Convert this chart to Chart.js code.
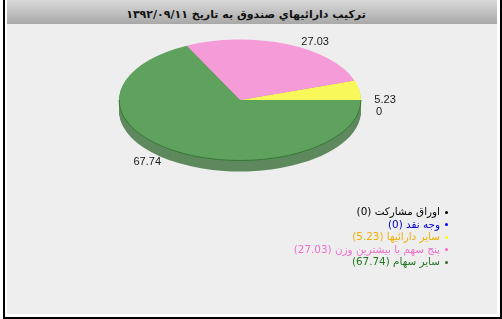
<!DOCTYPE html>
<html><head><meta charset="utf-8">
<script src="https://cdn.jsdelivr.net/npm/chart.js@4/dist/chart.umd.min.js"></script>
<style>
html,body{margin:0;padding:0;background:#fff;width:502px;height:319px;overflow:hidden;}
#frame{position:absolute;left:3px;top:0;width:490px;height:314px;border:2px solid #000;border-top:none;padding:0 3px 3px 2px;background:#fff;}
#panel{position:absolute;left:2px;top:0;width:490px;height:314px;background:#eeeeee;}
#head{position:absolute;left:0;top:0;width:490px;height:24px;background:linear-gradient(#dadada,#a8a8a8);}
#title{position:absolute;left:0;top:8px;width:478px;height:16px;line-height:16px;text-align:center;font:bold 11px Tahoma,'DejaVu Sans',sans-serif;color:#111;direction:rtl;}
#c{position:absolute;left:0;top:-21px;}
#legend{position:absolute;right:54px;top:205px;direction:rtl;font:10.4px Tahoma,'DejaVu Sans',sans-serif;}
#legend .row{height:12.5px;line-height:12.5px;white-space:nowrap;}
#legend .dot{display:inline-block;width:3px;height:3px;border-radius:2px;margin-left:5px;vertical-align:middle;}
</style></head>
<body>
<div id="frame"><div id="panel"><div id="head"></div><div id="title">ترکیب دارائیهاي صندوق به تاریخ ۱۳۹۲/۰۹/۱۱</div></div></div>
<canvas id="c" width="502" height="340"></canvas>
<div id="legend"></div>
<script>
const categories = ['اوراق مشارکت', 'وجه نقد', 'سایر دارائیها', 'پنج سهم با بیشترین وزن', 'سایر سهام'];
const values = [0, 0, 5.23, 27.03, 67.74];
const sliceColors = ['#000000', '#0000ff', '#f8f85a', '#f59bd8', '#5ea25e'];
const legendTextColors = ['#000000', '#0000cc', '#f0b000', '#ee70cc', '#227722'];
const legendDotColors = ['#000000', '#0000ff', '#ffff00', '#ff66cc', '#336633'];

const TILT = 0.5, DEPTH = 11;

function sideColor(hex){
  const n = parseInt(hex.slice(1),16);
  const ch = [(n>>16)&255,(n>>8)&255,n&255].map(v => Math.round((v*0.7 + 128*0.3)*0.9));
  return 'rgb(' + ch.join(',') + ')';
}
function arcPath(ctx, a){
  ctx.beginPath();
  ctx.moveTo(a.x, a.y);
  ctx.arc(a.x, a.y, a.outerRadius, a.startAngle, a.endAngle);
  ctx.closePath();
}
function tiltAt(ctx, a, dy){
  ctx.translate(a.x, a.y + dy);
  ctx.scale(1, -TILT);
  ctx.translate(-a.x, -a.y);
}

const pie3d = {
  id: 'pie3d',
  beforeDatasetsDraw(chart){
    const ctx = chart.ctx;
    const arcs = chart.getDatasetMeta(0).data;
    for (let d = DEPTH; d >= 1; d--) {
      arcs.forEach((a, i) => {
        if (a.endAngle - a.startAngle <= 0) return;
        ctx.save(); tiltAt(ctx, a, d);
        arcPath(ctx, a);
        ctx.fillStyle = sideColor(sliceColors[i]);
        ctx.fill();
        ctx.restore();
      });
    }
    ctx.save();
    tiltAt(ctx, arcs[0], 0);
  },
  afterDatasetsDraw(chart){
    const ctx = chart.ctx;
    ctx.restore();
    const arcs = chart.getDatasetMeta(0).data;
    const a0 = arcs[0];
    ctx.save();
    ctx.beginPath();
    ctx.ellipse(a0.x, a0.y, a0.outerRadius, a0.outerRadius*TILT, 0, 0, Math.PI);
    ctx.strokeStyle = 'rgba(45,115,45,0.85)'; ctx.lineWidth = 1; ctx.stroke();
    ctx.restore();
    ctx.save();
    ctx.font = '11px "Liberation Sans", Arial, sans-serif';
    ctx.fillStyle = '#1a1a1a';
    ctx.textBaseline = 'middle';
    const drawn = {};
    arcs.forEach((a, i) => {
      const mid = (a.startAngle + a.endAngle) / 2;
      const c = Math.cos(mid), s = Math.sin(mid);
      const key = mid.toFixed(4) + '|' + values[i];
      if (drawn[key]) return;
      drawn[key] = true;
      const x = a.x + a.outerRadius * c + (c >= 0 ? 15 : -15);
      const k = s >= 0 ? 76 : 59;
      const y = a.y + 12 - k * s;
      ctx.textAlign = c >= 0 ? 'left' : 'right';
      ctx.fillText(String(values[i]), x, y);
    });
    ctx.restore();
  }
};

new Chart(document.getElementById('c'), {
  type: 'pie',
  data: { labels: categories, datasets: [{ data: values, backgroundColor: sliceColors, borderWidth: 0 }] },
  options: {
    responsive: false, animation: false, rotation: 90,
    events: [],
    layout: { padding: { left: 119, right: 141, top: 0, bottom: 98 } },
    plugins: { legend: { display: false }, tooltip: { enabled: false } }
  },
  plugins: [pie3d]
});

const lg = document.getElementById('legend');
categories.forEach((name, i) => {
  const row = document.createElement('div');
  row.className = 'row';
  row.style.color = legendTextColors[i];
  const dot = document.createElement('span');
  dot.className = 'dot'; dot.style.background = legendDotColors[i];
  row.appendChild(dot);
  row.appendChild(document.createTextNode(name + ' (' + values[i] + ')'));
  lg.appendChild(row);
});
</script>
</body></html>
